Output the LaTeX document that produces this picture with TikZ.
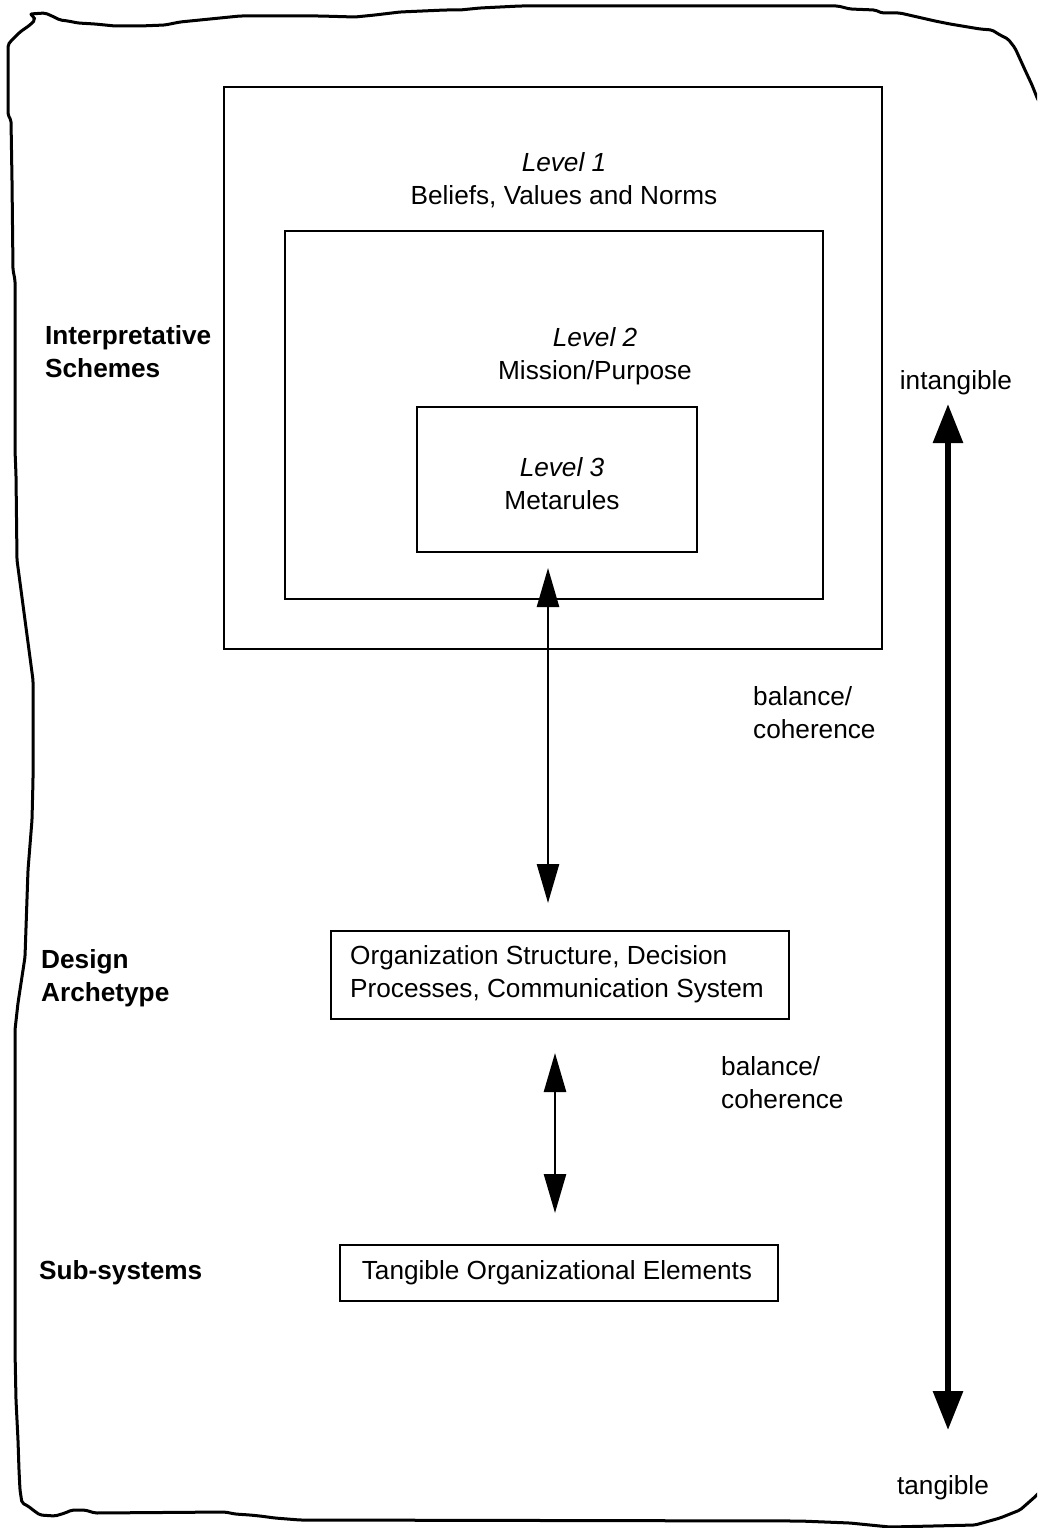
\documentclass[tikz,border=0pt]{standalone}
\usepackage{fontspec}
\setmainfont{Liberation Sans}
\usetikzlibrary{arrows.meta}
\tikzset{
  txt/.style={inner sep=0pt, font=\fontsize{26.2}{32.5}\selectfont},
  lbl/.style={txt, align=left, anchor=base west},
  ctr/.style={txt, align=center, anchor=base},
  frame/.style={draw, line width=2.4pt, inner sep=0pt, anchor=north west},
  border/.style={line width=3pt, line join=round, line cap=round, rounded corners=2pt},
  thinarrow/.style={line width=2.6pt, {Triangle[width=22pt,length=39pt]}-{Triangle[width=22pt,length=39pt]}},
  bigarrow/.style={line width=6pt, {Triangle[width=29pt,length=39pt]}-{Triangle[width=29pt,length=39pt]}}
}
\begin{document}
\begin{tikzpicture}[x=1pt,y=-1pt]
\useasboundingbox (0,0) rectangle (1037,1528);
\begin{scope}
\clip (0,0) rectangle (1037,1528);
% outer hand-drawn border
\draw[border] (30,14) -- (45,13) -- (52,16) -- (60,20) -- (68,21) -- (78,23) -- (95,24) -- (115,26) -- (140,26) -- (165,25) -- (180,22) -- (200,20) -- (230,17) -- (240,16) -- (280,16) -- (320,16) -- (355,17) -- (375,15) -- (400,12) -- (445,10) -- (460,10) -- (480,8) -- (520,6) -- (838,6) -- (850,9) -- (875,10) -- (882,13) -- (900,13) -- (935,21) -- (950,24) -- (980,29) -- (992,30) -- (1000,35) -- (1008,39) -- (1015,48) -- (1025,70) -- (1032,85) -- (1038,100) -- (1060,135) -- (1070,200) -- (1070,1440) -- (1050,1480) -- (1037,1495) -- (1020,1510) -- (1000,1518) -- (975,1525) -- (890,1527) -- (850,1523) -- (800,1521) -- (300,1520) -- (275,1518) -- (260,1516) -- (250,1515) -- (235,1514) -- (225,1512) -- (95,1513) -- (85,1510) -- (72,1510) -- (65,1513) -- (55,1516) -- (40,1515) -- (33,1510) -- (28,1506) -- (22,1503) -- (20,1490) -- (19,1470) -- (18,1440) -- (16,1400) -- (15,1350) -- (15,1030) -- (18,1003) -- (25,957) -- (28,870) -- (32,820) -- (33,780) -- (33,680) -- (25,620) -- (17,560) -- (16,475) -- (15,450) -- (15,280) -- (13,270) -- (12,180) -- (11,120) -- (8,115) -- (8,45) -- (10,42) -- (20,32) -- (30,25) -- (35,20) -- (34,17) -- cycle;
\end{scope}

% nested boxes
\node[frame, minimum width=658pt, minimum height=562pt] (l1) at (223,86) {};
\node[frame, minimum width=538pt, minimum height=368pt] (l2) at (284,230) {};
\node[frame, minimum width=280pt, minimum height=145pt] (l3) at (416,406) {};
\node[ctr] (t1) at (564,204) {\itshape Level 1\\Beliefs, Values and Norms};
\node[ctr] (t2) at (595,379) {\itshape Level 2\\Mission/Purpose};
\node[ctr] (t3) at (562,509) {\itshape Level 3\\Metarules};

% design archetype and sub-systems boxes
\node[frame, minimum width=458pt, minimum height=88pt] (da) at (330,930) {};
\node[lbl] (dat) at (350,997) {Organization Structure, Decision\\Processes, Communication System};
\node[frame, minimum width=438pt, minimum height=56pt] (ss) at (339,1244) {};
\node[ctr] (sst) at (557,1279) {Tangible Organizational Elements};

% left labels
\node[lbl] (is) at (45,377) {\bfseries Interpretative\\\bfseries Schemes};
\node[lbl] (dal) at (41,1001) {\bfseries Design\\\bfseries Archetype};
\node[lbl] (ssl) at (39,1279) {\bfseries Sub-systems};

% right labels
\node[lbl] (bc1) at (753,738) {balance/\\coherence};
\node[lbl] (bc2) at (721,1108) {balance/\\coherence};
\node[ctr] (intg) at (956,389) {intangible};
\node[ctr] (tg) at (943,1494) {tangible};

% arrows
\coordinate (a1t) at (548,568);
\coordinate (a1b) at (548,903);
\coordinate (a2t) at (555,1053);
\coordinate (a2b) at (555,1213);
\coordinate (a3t) at (948,404);
\coordinate (a3b) at (948,1430);
\draw[thinarrow] (a1t) -- (a1b);
\draw[thinarrow] (a2t) -- (a2b);
\draw[bigarrow] (a3t) -- (a3b);
\end{tikzpicture}
\end{document}
